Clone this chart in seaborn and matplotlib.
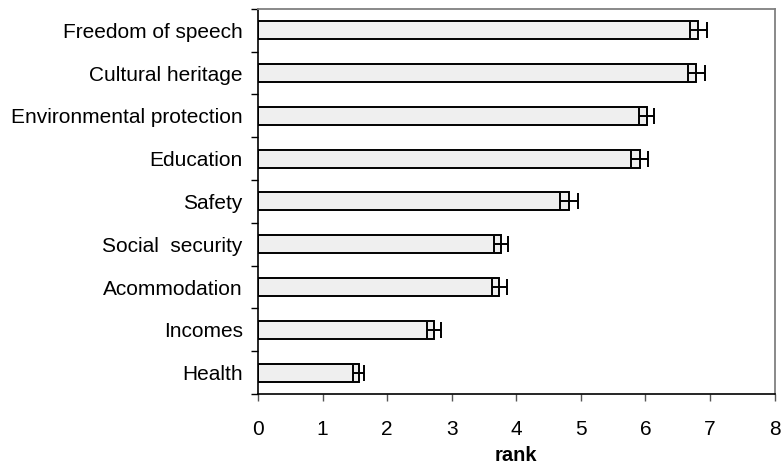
import numpy as np
import pandas as pd
import matplotlib
matplotlib.use("Agg")
import matplotlib.pyplot as plt
import seaborn as sns

# Данные
categories = ['Freedom of speech', 'Cultural heritage', 'Environmental protection',
              'Education', 'Safety', 'Social  security', 'Acommodation',
              'Incomes', 'Health']
ranks = [6.82, 6.79, 6.02, 5.91, 4.81, 3.76, 3.74, 2.73, 1.56]
errors = [0.13, 0.13, 0.12, 0.13, 0.14, 0.11, 0.11, 0.11, 0.09]

df = pd.DataFrame({'category': categories, 'rank': ranks})

sns.set_style("white")
plt.rcParams['font.family'] = ['Liberation Sans', 'DejaVu Sans']
plt.rcParams['text.color'] = 'black'
plt.rcParams['xtick.color'] = 'black'
plt.rcParams['ytick.color'] = 'black'
plt.rcParams['axes.labelcolor'] = 'black'

fig, ax = plt.subplots(figsize=(7.84, 4.68), dpi=100)
fig.subplots_adjust(left=0.329, right=0.988, top=0.981, bottom=0.158)

sns.barplot(data=df, x='rank', y='category', orient='h', order=categories,
            color='#efefef', edgecolor='black', linewidth=1.4, width=0.42,
            errorbar=None, ax=ax, saturation=1)

# Усы ошибок
ax.errorbar(ranks, np.arange(len(categories)), xerr=errors, fmt='none',
            ecolor='black', elinewidth=1.4, capsize=5.5, capthick=1.4)

ax.set_xlim(0, 8)
ax.set_ylim(len(categories) - 0.5, -0.5)
ax.set_xticks(range(0, 9))

# Деления по границам категорий
ax.set_yticks(np.arange(len(categories)))
ax.set_yticklabels(categories)
ax.set_yticks(np.arange(-0.5, len(categories)), minor=True)
ax.tick_params(axis='y', which='major', length=0, pad=11, labelsize=15)
ax.tick_params(axis='y', which='minor', length=5, width=1, color='black', direction='out', left=True)
ax.tick_params(axis='x', length=5, width=1, color='#555555', direction='out',
               bottom=True, labelsize=15, pad=14)

ax.set_ylabel('')
ax.set_xlabel('rank', fontsize=14.5, fontweight='bold', labelpad=5)

for s in ['left', 'bottom']:
    ax.spines[s].set_color('black')
    ax.spines[s].set_linewidth(1.2)
for s in ['top', 'right']:
    ax.spines[s].set_color('#808080')
    ax.spines[s].set_linewidth(1.3)

plt.savefig('out.png', dpi=100)
